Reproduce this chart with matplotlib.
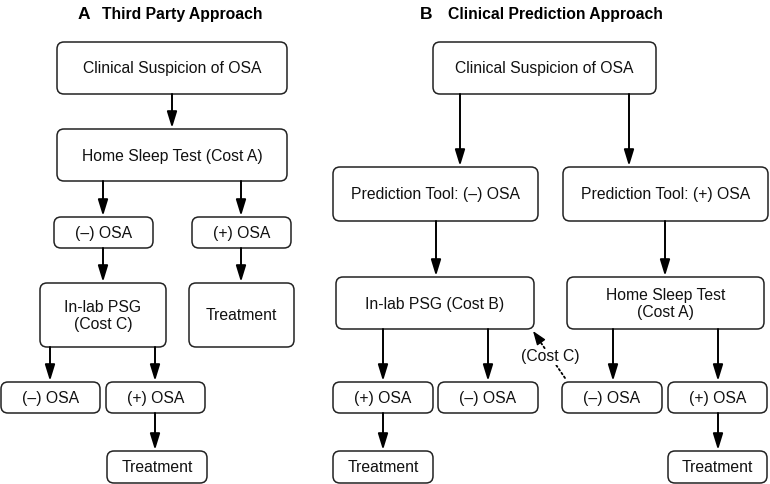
import matplotlib.pyplot as plt
from matplotlib.patches import FancyBboxPatch, FancyArrowPatch

plt.rcParams['font.family'] = ['Liberation Sans', 'DejaVu Sans']

# node labels
panel_titles = ['Third Party Approach', 'Clinical Prediction Approach']
panel_letters = ['A', 'B']
labels_a = ['Clinical Suspicion of OSA', 'Home Sleep Test (Cost A)',
            '(\u2013) OSA', '(+) OSA', 'In-lab PSG\n(Cost C)', 'Treatment',
            '(\u2013) OSA', '(+) OSA', 'Treatment']
labels_b = ['Clinical Suspicion of OSA', 'Prediction Tool: (\u2013) OSA',
            'Prediction Tool: (+) OSA', 'In-lab PSG (Cost B)',
            'Home Sleep Test\n(Cost A)', '(+) OSA', '(\u2013) OSA',
            '(\u2013) OSA', '(+) OSA', 'Treatment', 'Treatment']
dotted_label = '(Cost C)'

# layout in pixels: (x0, y0, x1, y1)
boxes_a = [(57, 42, 287, 94), (57, 129, 287, 181),
           (54, 217, 153, 248), (192, 217, 291, 248),
           (40, 283, 166, 347), (189, 283, 294, 347),
           (1, 382, 100, 413), (106, 382, 205, 413),
           (107, 451, 207, 483)]
boxes_b = [(433, 42, 656, 94), (333, 167, 538, 221), (563, 167, 768, 221),
           (336, 277, 534, 329), (567, 277, 764, 329),
           (333, 382, 433, 413), (438, 382, 538, 413),
           (562, 382, 662, 413), (668, 382, 767, 413),
           (333, 451, 433, 483), (668, 451, 767, 483)]
# arrows: (x, y_start, y_end)
arrows = [(172, 94, 128), (103, 181, 216), (241, 181, 216),
          (103, 248, 282), (241, 248, 282), (50, 347, 381), (155, 347, 381),
          (155, 413, 450),
          (460, 94, 166), (629, 94, 166), (436, 221, 276), (665, 221, 276),
          (383, 329, 381), (488, 329, 381), (613, 329, 381), (718, 329, 381),
          (383, 413, 450), (718, 413, 450)]

fig = plt.figure(figsize=(7.7, 4.84), dpi=100)
ax = fig.add_axes([0, 0, 1, 1])
ax.set_xlim(0, 770)
ax.set_ylim(484, 0)
ax.axis('off')

for (x0, y0, x1, y1), lab in zip(boxes_a + boxes_b, labels_a + labels_b):
    ax.add_patch(FancyBboxPatch((x0, y0), x1 - x0, y1 - y0,
                                boxstyle='round,pad=0,rounding_size=7',
                                fc='white', ec='#222222', lw=1.1))
    ax.text((x0 + x1) / 2, (y0 + y1) / 2 + 1, lab, ha='center', va='center',
            fontsize=11.3, color='#111111', linespacing=1.15)

head = '-|>,head_length=0.65,head_width=0.2'
for x, ys, ye in arrows:
    ax.add_patch(FancyArrowPatch((x, ys), (x, ye), arrowstyle=head,
                                 mutation_scale=15, lw=1.4, color='black',
                                 shrinkA=0, shrinkB=0))

# dotted link with a solid head
ax.add_patch(FancyArrowPatch((565, 378), (537, 337), arrowstyle='-',
                             lw=1.3, color='black',
                             linestyle=(0, (1, 1.5)), shrinkA=0, shrinkB=0))
ax.add_patch(FancyArrowPatch((538, 338), (533, 331),
                             arrowstyle='-|>,head_length=0.6,head_width=0.22',
                             mutation_scale=14, lw=1.0, color='black',
                             shrinkA=0, shrinkB=0))
ax.text(550, 357, dotted_label, ha='center', va='center', fontsize=11.3,
        color='#111111',
        bbox=dict(fc='white', ec='none', pad=0.5))

ax.text(78, 19, panel_letters[0], ha='left', va='baseline', fontsize=12.5,
        fontweight='bold')
ax.text(102, 19, panel_titles[0], ha='left', va='baseline', fontsize=11.3,
        fontweight='bold')
ax.text(420, 19, panel_letters[1], ha='left', va='baseline', fontsize=12.5,
        fontweight='bold')
ax.text(448, 19, panel_titles[1], ha='left', va='baseline', fontsize=11.3,
        fontweight='bold')

fig.savefig('out.png', dpi=100)
